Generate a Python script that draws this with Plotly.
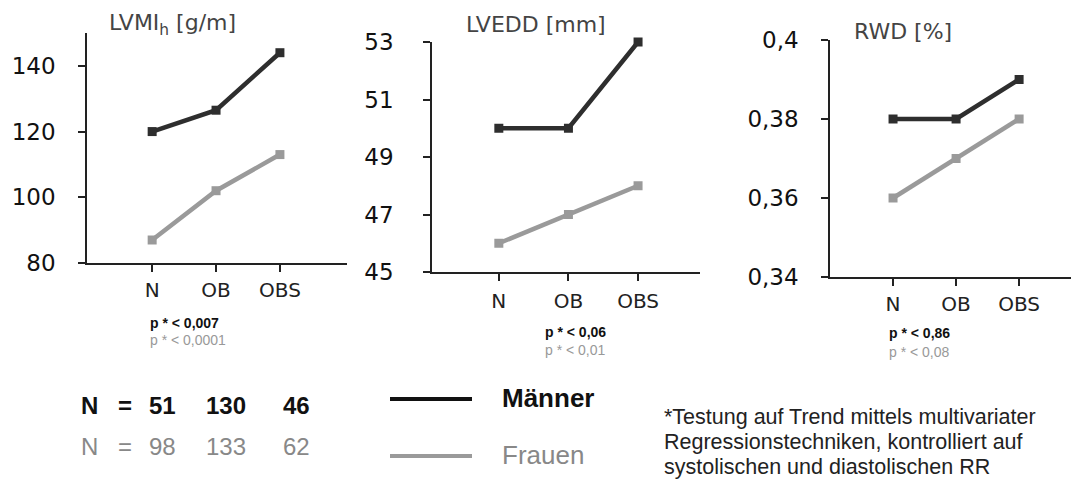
import plotly.graph_objects as go

OFF = 8                      # page body margin
W, H = 1079 - OFF, 479 - OFF  # figure size so that page == viewport

categories = ["N", "OB", "OBS"]
lvmi_men = [120, 126.5, 144]
lvmi_women = [87, 102, 113]
lvedd_men = [50, 50, 53]
lvedd_women = [46, 47, 48]
rwd_men = [0.38, 0.38, 0.39]
rwd_women = [0.36, 0.37, 0.38]

titles = ["LVMI<sub>h</sub> [g/m]", "LVEDD [mm]", "RWD [%]"]
p_men = ["0,007", "0,06", "0,86"]
p_women = ["0,0001", "0,01", "0,08"]
n_men = [51, 130, 46]
n_women = [98, 133, 62]
legend_names = ["Männer", "Frauen"]
footnote = ["*Testung auf Trend mittels multivariater",
            "Regressionstechniken, kontrolliert auf",
            "systolischen und diastolischen RR"]

MEN_C = "#2e2e2e"
WOM_C = "#9a9a9a"


def X(px):
    return (px - OFF) / W


def Y(py):
    return 1 - (py - OFF) / H


panels = [
    dict(x0=87, x1=347, yt=33, yb=263, xr=[-1.02, 3.05], yr=[80, 150], tv=[80, 100, 120, 140],
         men=lvmi_men, wom=lvmi_women, tx=172, ty=25, px=148, py=[323, 340], so=18, xso=1),
    dict(x0=432, x1=700, yt=42, yb=272, xr=[-0.96, 2.89], yr=[45, 53], tv=[45, 47, 49, 51, 53],
         men=lvedd_men, wom=lvedd_women, tx=536, ty=25, px=543, py=[332, 350], so=25, xso=3),
    dict(x0=830, x1=1079, yt=40, yb=277, xr=[-1.0, 2.95], yr=[0.34, 0.40], tv=[0.34, 0.36, 0.38, 0.40],
         men=rwd_men, wom=rwd_women, tx=903, ty=32, px=887, py=[333, 352], so=18, xso=1),
]

fig = go.Figure()
annotations = []
shapes = []

for i, p in enumerate(panels):
    n = "" if i == 0 else str(i + 1)
    xa, ya = "x" + n, "y" + n
    for vals, col in [(p["wom"], WOM_C), (p["men"], MEN_C)]:
        fig.add_trace(go.Scatter(
            x=categories, y=vals, xaxis=xa, yaxis=ya, mode="lines+markers", cliponaxis=False,
            line=dict(color=col, width=4.5), marker=dict(symbol="square", size=9, color=col),
            showlegend=False, hoverinfo="skip"))
    common = dict(showgrid=False, zeroline=False, showline=True, linecolor="#222", linewidth=1.5,
                  ticks="outside", ticklen=7, tickwidth=1.5, tickcolor="#222", automargin=False)
    fig.layout["xaxis" + n] = dict(
        domain=[X(p["x0"]), min(1, X(p["x1"]))], anchor=ya, type="category", range=p["xr"],
        tickfont=dict(family="DejaVu Sans", size=20, color="#222"), ticklabelstandoff=p["xso"],
        **common)
    fig.layout["yaxis" + n] = dict(
        domain=[Y(p["yb"]), Y(p["yt"])], anchor=xa, range=p["yr"], tickvals=p["tv"],
        tickfont=dict(family="DejaVu Sans", size=23, color="#111"), ticklabelstandoff=p["so"],
        **common)
    annotations.append(dict(text=titles[i], x=X(p["tx"]), y=Y(p["ty"]), xref="paper", yref="paper",
                            showarrow=False, xanchor="center", yanchor="middle",
                            font=dict(family="DejaVu Sans", size=22, color="#444")))
    annotations.append(dict(text="<b>p * < " + p_men[i] + "</b>", x=X(p["px"]), y=Y(p["py"][0]),
                            xref="paper", yref="paper", showarrow=False, xanchor="left",
                            yanchor="middle", font=dict(family="Liberation Sans", size=14, color="#111")))
    annotations.append(dict(text="p * < " + p_women[i], x=X(p["px"]), y=Y(p["py"][1]),
                            xref="paper", yref="paper", showarrow=False, xanchor="left",
                            yanchor="middle", font=dict(family="Liberation Sans", size=14, color="#999")))

# N counts
n_x = [162, 226, 296]
for vals, col, py, bold in [(n_men, "#111", 405, True), (n_women, "#888", 446, False)]:
    f = dict(family="Liberation Sans", size=24, color=col)
    wrap = (lambda s: "<b>" + s + "</b>") if bold else (lambda s: s)
    annotations.append(dict(text=wrap("N"), x=X(89), y=Y(py), xref="paper", yref="paper",
                            showarrow=False, xanchor="center", yanchor="middle", font=f))
    annotations.append(dict(text=wrap("="), x=X(125), y=Y(py), xref="paper", yref="paper",
                            showarrow=False, xanchor="center", yanchor="middle", font=f))
    for v, xx in zip(vals, n_x):
        annotations.append(dict(text=wrap(str(v)), x=X(xx), y=Y(py), xref="paper", yref="paper",
                                showarrow=False, xanchor="center", yanchor="middle", font=f))

# legend
for name, col, py, bold in [(legend_names[0], "#111", 399, True), (legend_names[1], "#888", 456, False)]:
    shapes.append(dict(type="line", xref="paper", yref="paper", x0=X(390), x1=X(472), y0=Y(py), y1=Y(py),
                       line=dict(color=col if bold else WOM_C, width=4)))
    annotations.append(dict(text=("<b>%s</b>" % name) if bold else name, x=X(500), y=Y(py - 1),
                            xref="paper", yref="paper", showarrow=False, xanchor="left", yanchor="middle",
                            font=dict(family="Liberation Sans", size=26, color=col)))

for line, py in zip(footnote, [417, 442, 467]):
    annotations.append(dict(text=line, x=X(662), y=Y(py), xref="paper", yref="paper",
                            showarrow=False, xanchor="left", yanchor="middle", align="left",
                            font=dict(family="Liberation Sans", size=21.5, color="#222")))

fig.update_layout(width=W, height=H, margin=dict(l=0, r=0, t=0, b=0, autoexpand=False),
                  paper_bgcolor="white", plot_bgcolor="white", separators=",.",
                  annotations=annotations, shapes=shapes, showlegend=False)

fig.write_html("out.html", config={"displayModeBar": False})
